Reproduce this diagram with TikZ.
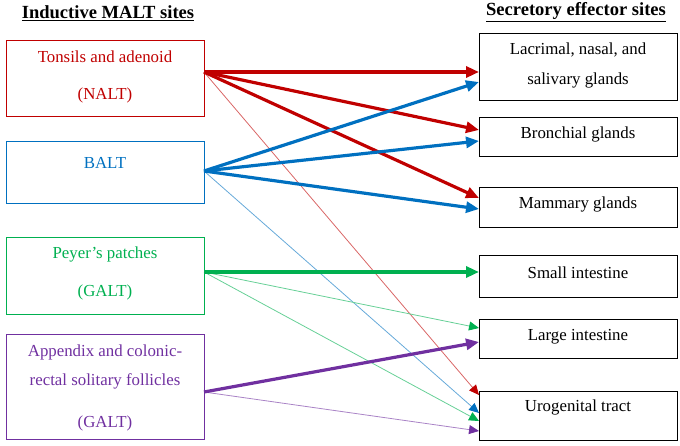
\documentclass[tikz,border=0pt]{standalone}
\usepackage{fontspec}
\setmainfont{Liberation Serif}
\usetikzlibrary{arrows.meta}
\definecolor{cred}{HTML}{C00000}
\definecolor{cblue}{HTML}{0070C0}
\definecolor{cgreen}{HTML}{00B050}
\definecolor{cpurple}{HTML}{7030A0}
\begin{document}
\begin{tikzpicture}[x=1bp,y=-1bp,
  lbox/.style={draw, line width=1.2pt, minimum width=198bp, anchor=north west, inner sep=0pt},
  rbox/.style={draw=black, line width=1.3pt, minimum width=198bp, anchor=north west, inner sep=0pt},
  txt/.style={font=\fontsize{16.9}{19}\selectfont, inner sep=0pt},
  ttl/.style={font=\fontsize{18.6}{21}\selectfont\bfseries, inner sep=0pt},
  thickarr/.style={line width=3.2pt, -{Triangle[length=13pt,width=11pt]}},
  thinarr/.style={line width=0.8pt, -{Triangle[length=10pt,width=9pt,color=#1]}, draw=#1!60!white},
]
\useasboundingbox (0,0) rectangle (680,446);

% titles
\node[ttl] (t1) at (108,13) {\underline{Inductive MALT sites}};
\node[ttl] (t2) at (576,12) {\underline{Secretory effector sites}};

% left boxes
\node[lbox, draw=cred, minimum height=76bp] (nalt) at (6,40) {};
\node[txt, text=cred] (nalt1) at (105,57) {Tonsils and adenoid};
\node[txt, text=cred] (nalt2) at (105,95) {(NALT)};

\node[lbox, draw=cblue, minimum height=62bp] (balt) at (6,141) {};
\node[txt, text=cblue] (balt1) at (105,163) {BALT};

\node[lbox, draw=cgreen, minimum height=77bp] (galt) at (6,237) {};
\node[txt, text=cgreen] (galt1) at (105,254) {Peyer’s patches};
\node[txt, text=cgreen] (galt2) at (105,292) {(GALT)};

\node[lbox, draw=cpurple, minimum height=105bp] (app) at (6,334) {};
\node[txt, text=cpurple] (app1) at (105,352) {Appendix and colonic-};
\node[txt, text=cpurple] (app2) at (105,381) {rectal solitary follicles};
\node[txt, text=cpurple] (app3) at (105,423) {(GALT)};

% right boxes
\node[rbox, minimum height=67bp] (lac) at (479,33) {};
\node[txt] (lac1) at (578,50) {Lacrimal, nasal, and};
\node[txt] (lac2) at (578,80) {salivary glands};

\node[rbox, minimum height=39bp] (bro) at (479,117) {};
\node[txt] (bro1) at (578,134) {Bronchial glands};

\node[rbox, minimum height=40bp] (mam) at (479,187) {};
\node[txt] (mam1) at (578,204) {Mammary glands};

\node[rbox, minimum height=42bp] (sml) at (479,255) {};
\node[txt] (sml1) at (578,273) {Small intestine};

\node[rbox, minimum height=39bp] (lrg) at (479,319) {};
\node[txt] (lrg1) at (578,337) {Large intestine};

\node[rbox, minimum height=49bp] (uro) at (479,391) {};
\node[txt] (uro1) at (578,407) {Urogenital tract};

% source points
\coordinate (sR) at (204,72);
\coordinate (sB) at (204,171);
\coordinate (sG) at (204,272);
\coordinate (sP) at (204,392);
% target points
\coordinate (lacR) at (479,72);
\coordinate (lacB) at (479,82);
\coordinate (broR) at (479,130);
\coordinate (broB) at (479,141);
\coordinate (mamR) at (479,198);
\coordinate (mamB) at (479,209);
\coordinate (smlG) at (479,272);
\coordinate (lrgG) at (479,328);
\coordinate (lrgP) at (479,342);
\coordinate (uroR) at (479,395);
\coordinate (uroB) at (479,413);
\coordinate (uroG) at (479,421);
\coordinate (uroP) at (479,431);

% thin arrows
\draw[thinarr=cred] (sR) -- (uroR);
\draw[thinarr=cblue] (sB) -- (uroB);
\draw[thinarr=cgreen] (sG) -- (lrgG);
\draw[thinarr=cgreen] (sG) -- (uroG);
\draw[thinarr=cpurple] (sP) -- (uroP);

% thick arrows
\draw[thickarr, cred] (sR) -- (lacR);
\draw[thickarr, cred] (sR) -- (broR);
\draw[thickarr, cred] (sR) -- (mamR);
\draw[thickarr, cblue] (sB) -- (lacB);
\draw[thickarr, cblue] (sB) -- (broB);
\draw[thickarr, cblue] (sB) -- (mamB);
\draw[thickarr, cgreen] (sG) -- (smlG);
\draw[thickarr, cpurple] (sP) -- (lrgP);
\end{tikzpicture}
\end{document}
